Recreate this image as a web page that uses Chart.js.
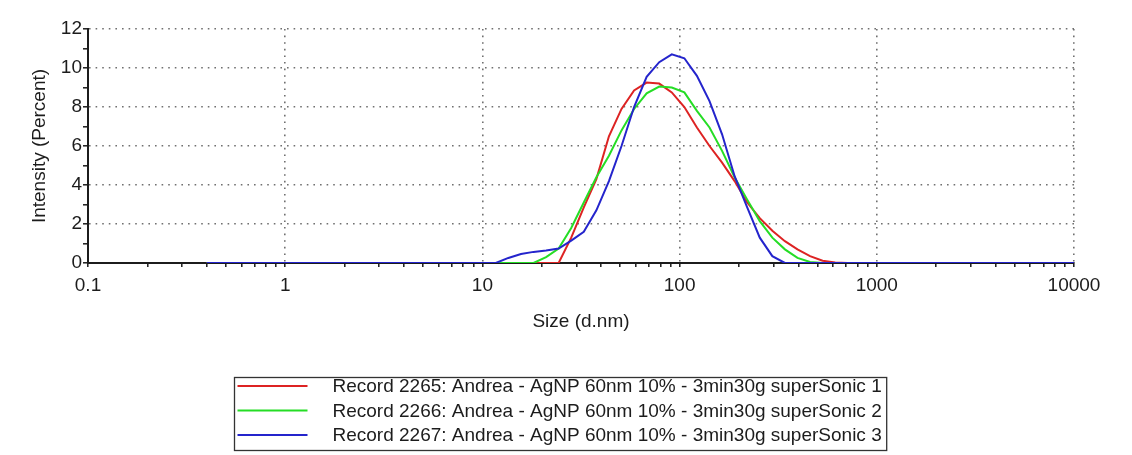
<!DOCTYPE html>
<html>
<head>
<meta charset="utf-8">
<script src="https://cdn.jsdelivr.net/npm/chart.js@4"></script>
<style>
  html, body { margin: 0; padding: 0; background: #fff; }
  #wrap { width: 1132px; height: 455px; }
</style>
</head>
<body>
<div id="wrap"><canvas id="dls"></canvas></div>
<script>
// size classes (d.nm)
const sizes = [0.4, 0.4632, 0.5365, 0.6213, 0.7195, 0.8332, 0.9649, 1.117, 1.294, 1.499,
  1.736, 2.01, 2.328, 2.696, 3.122, 3.615, 4.187, 4.849, 5.615, 6.503,
  7.531, 8.721, 10.1, 11.7, 13.54, 15.69, 18.17, 21.04, 24.36, 28.21,
  32.67, 37.84, 43.82, 50.75, 58.77, 68.06, 78.82, 91.28, 105.7, 122.4,
  141.8, 164.2, 190.1, 220.2, 255, 295.3, 342, 396.1, 458.7, 531.2,
  615.1, 712.4, 825, 955.4, 1106, 1281, 1484, 1718, 1990, 2305,
  2669, 3091, 3580, 4145, 4801, 5560, 6439, 7456, 8635, 10000];

// intensity (%)
const record2265 = [0, 0, 0, 0, 0, 0, 0, 0, 0, 0,
  0, 0, 0, 0, 0, 0, 0, 0, 0, 0,
  0, 0, 0, 0, 0, 0, 0, 0, 0, 1.3,
  2.85, 4.3, 6.5, 7.9, 8.85, 9.25, 9.2, 8.75, 8.0, 6.95,
  6.0, 5.15, 4.2, 3.1, 2.3, 1.65, 1.12, 0.7, 0.35, 0.12,
  0.03, 0, 0, 0, 0, 0, 0, 0, 0, 0,
  0, 0, 0, 0, 0, 0, 0, 0, 0, 0];
const record2266 = [0, 0, 0, 0, 0, 0, 0, 0, 0, 0,
  0, 0, 0, 0, 0, 0, 0, 0, 0, 0,
  0, 0, 0, 0, 0, 0, 0, 0.3, 0.74, 1.8,
  3.1, 4.4, 5.5, 6.8, 7.9, 8.7, 9.05, 9.0, 8.75, 7.8,
  6.95, 5.75, 4.4, 3.25, 2.15, 1.3, 0.7, 0.26, 0.05, 0,
  0, 0, 0, 0, 0, 0, 0, 0, 0, 0,
  0, 0, 0, 0, 0, 0, 0, 0, 0, 0];
const record2267 = [0, 0, 0, 0, 0, 0, 0, 0, 0, 0,
  0, 0, 0, 0, 0, 0, 0, 0, 0, 0,
  0, 0, 0, 0, 0.26, 0.46, 0.57, 0.64, 0.74, 1.15,
  1.6, 2.7, 4.2, 6.0, 8.0, 9.55, 10.3, 10.7, 10.5, 9.6,
  8.3, 6.6, 4.45, 2.85, 1.3, 0.35, 0, 0, 0, 0,
  0, 0, 0, 0, 0, 0, 0, 0, 0, 0,
  0, 0, 0, 0, 0, 0, 0, 0, 0, 0];

const recordLabels = [
  'Record 2265: Andrea - AgNP 60nm 10% - 3min30g superSonic 1',
  'Record 2266: Andrea - AgNP 60nm 10% - 3min30g superSonic 2',
  'Record 2267: Andrea - AgNP 60nm 10% - 3min30g superSonic 3'
];
const recordColors = ['#dd2323', '#25dd25', '#2424cc'];

const xTickLabels = ['0.1', '1', '10', '100', '1000', '10000'];
const yTickLabels = ['0', '2', '4', '6', '8', '10', '12'];
const xDecades = xTickLabels.map(Number);
const yMajors = yTickLabels.map(Number);

const FONT = '"Liberation Sans", Arial, sans-serif';
const INK = '#1c1c1c';
const DOTS = '#707070';

const toPoints = (arr) => sizes.map((s, i) => ({ x: s, y: arr[i] }));

// legend drawn as a framed box like the instrument software
const recordLegend = {
  id: 'recordLegend',
  afterDraw(chart, args, opts) {
    const ctx = chart.ctx;
    const sets = chart.data.datasets;
    ctx.save();
    ctx.font = '19px ' + FONT;
    const textW = Math.max(...sets.map(ds => ctx.measureText(ds.label).width));
    const boxW = 3 + opts.lineLen + opts.gap + textW + 5;
    const left = Math.round(opts.centerX - boxW / 2) + 0.5;
    ctx.strokeStyle = '#333';
    ctx.lineWidth = 1.3;
    ctx.strokeRect(left, opts.top + 0.5, boxW, opts.height);
    sets.forEach((ds, i) => {
      const y = opts.top + opts.firstRow + i * opts.rowH;
      ctx.strokeStyle = ds.borderColor;
      ctx.lineWidth = 2;
      ctx.beginPath();
      ctx.moveTo(left + 3, y);
      ctx.lineTo(left + 3 + opts.lineLen, y);
      ctx.stroke();
      ctx.fillStyle = INK;
      ctx.textBaseline = 'middle';
      ctx.textAlign = 'left';
      ctx.fillText(ds.label, left + 3 + opts.lineLen + opts.gap, y + 1);
    });
    ctx.restore();
  }
};

new Chart('dls', {
  type: 'line',
  data: {
    datasets: [
      { label: recordLabels[0], data: toPoints(record2265), borderColor: recordColors[0], order: 2 },
      { label: recordLabels[1], data: toPoints(record2266), borderColor: recordColors[1], order: 1 },
      { label: recordLabels[2], data: toPoints(record2267), borderColor: recordColors[2], order: 0 }
    ]
  },
  options: {
    responsive: true,
    maintainAspectRatio: false,
    animation: false,
    events: [],
    layout: { padding: { left: 0, right: 58, top: 29, bottom: 112 } },
    elements: {
      line: { borderWidth: 2, tension: 0, fill: false },
      point: { radius: 0 }
    },
    plugins: {
      legend: { display: false },
      tooltip: { enabled: false },
      recordLegend: { centerX: 560, top: 377, height: 73, lineLen: 70, gap: 25, firstRow: 9, rowH: 24.5 }
    },
    scales: {
      x: {
        type: 'logarithmic',
        min: 0.1,
        max: 10000,
        afterBuildTicks: (scale) => {
          const ticks = [];
          xDecades.slice(0, -1).forEach(d => {
            for (let k = 1; k <= 9; k++) ticks.push({ value: d * k });
          });
          ticks.push({ value: xDecades[xDecades.length - 1] });
          scale.ticks = ticks;
        },
        afterFit: (scale) => { scale.height = 80; },
        ticks: {
          autoSkip: false,
          maxRotation: 0,
          padding: 7,
          color: INK,
          font: { family: FONT, size: 19 },
          callback: (v) => {
            const i = xDecades.indexOf(v);
            return i >= 0 ? xTickLabels[i] : '';
          }
        },
        grid: {
          color: (c) => (c.tick && xDecades.includes(c.tick.value) && c.tick.value !== xDecades[0]) ? DOTS : 'rgba(0,0,0,0)',
          lineWidth: 1.6,
          tickColor: INK,
          tickLength: 4,
          tickWidth: 1.5
        },
        border: { color: INK, width: 2, dash: [1.6, 5] },
        title: {
          display: true,
          text: 'Size (d.nm)',
          color: INK,
          font: { family: FONT, size: 19 },
          padding: { top: 0, bottom: 9.5 }
        }
      },
      y: {
        min: 0,
        max: 12,
        afterFit: (scale) => { scale.width = 88; },
        ticks: {
          stepSize: 1,
          autoSkip: false,
          padding: 1,
          color: INK,
          font: { family: FONT, size: 19 },
          callback: (v) => yMajors.includes(v) ? yTickLabels[yMajors.indexOf(v)] : ''
        },
        grid: {
          color: (c) => (c.tick && c.tick.value > 0 && yMajors.includes(c.tick.value)) ? DOTS : 'rgba(0,0,0,0)',
          lineWidth: 1.6,
          tickColor: INK,
          tickLength: 5,
          tickWidth: 1.5
        },
        border: { color: INK, width: 2, dash: [1.6, 5] },
        title: {
          display: true,
          text: 'Intensity (Percent)',
          color: INK,
          font: { family: FONT, size: 19 },
          padding: { top: 28.5, bottom: 0 }
        }
      }
    }
  },
  plugins: [recordLegend]
});
</script>
</body>
</html>
